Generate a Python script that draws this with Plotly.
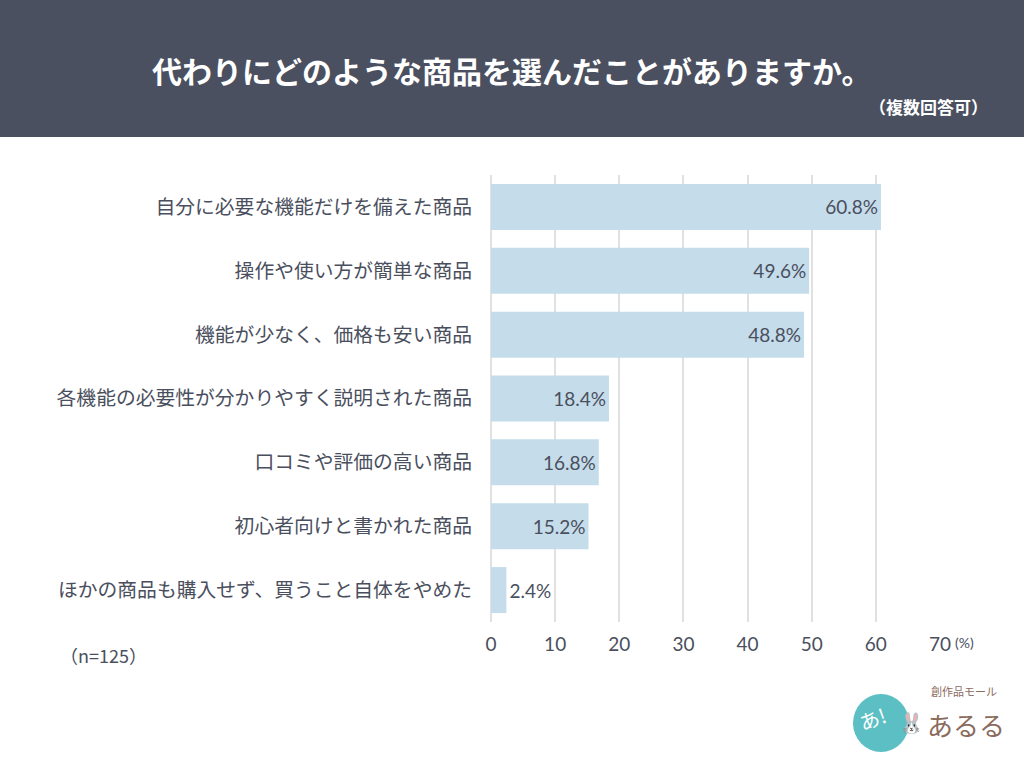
import plotly.graph_objects as go

categories = [
    "自分に必要な機能だけを備えた商品",
    "操作や使い方が簡単な商品",
    "機能が少なく、価格も安い商品",
    "各機能の必要性が分かりやすく説明された商品",
    "口コミや評価の高い商品",
    "初心者向けと書かれた商品",
    "ほかの商品も購入せず、買うこと自体をやめた",
]
values = [60.8, 49.6, 48.8, 18.4, 16.8, 15.2, 2.4]
tick_vals = [0, 10, 20, 30, 40, 50, 60, 70]
title_text = "代わりにどのような商品を選んだことがありますか。"
subtitle_text = "（複数回答可）"
n_text = "（n=125）"

W, H = 1024, 768
L, R, T, B = 491, 84, 175, 146
PW, PH = W - L - R, H - T - B

def px(p):
    return (p - L) / PW

def py(p):
    return (H - B - p) / PH

TXT = "#4a4f5e"
FONT = "Lato, Noto Sans CJK JP, sans-serif"

positions = ["inside" if v > 10 else "outside" for v in values]

fig = go.Figure(
    go.Bar(
        x=values,
        y=categories,
        orientation="h",
        marker=dict(color="#c5dcea", line=dict(width=0)),
        width=0.72,
        text=[f"{v:.1f}%" for v in values],
        textposition=positions,
        insidetextanchor="end",
        textfont=dict(size=19, color=TXT, family=FONT),
        cliponaxis=False,
    )
)

fig.update_layout(
    width=W,
    height=H,
    margin=dict(l=L, r=R, t=T, b=B, pad=0),
    paper_bgcolor="white",
    plot_bgcolor="white",
    showlegend=False,
    font=dict(family=FONT, color=TXT),
    xaxis=dict(
        range=[0, 70],
        tickvals=tick_vals,
        ticktext=[str(t) for t in tick_vals],
        showgrid=True,
        gridcolor="#e1e1e1",
        gridwidth=2,
        zeroline=True,
        zerolinecolor="#e1e1e1",
        zerolinewidth=2,
        showline=False,
        ticks="outside",
        ticklen=5,
        tickcolor="rgba(0,0,0,0)",
        tickfont=dict(size=19, color=TXT, family=FONT),
        fixedrange=True,
    ),
    yaxis=dict(
        categoryorder="array",
        categoryarray=categories,
        showgrid=False,
        zeroline=False,
        showline=False,
        ticks="",
        ticklabelstandoff=18,
        tickfont=dict(size=19.8, color=TXT, family="Noto Sans CJK JP, sans-serif"),
        autorange=False,
        range=[6.5, -0.5],
        fixedrange=True,
    ),
)

shapes = [
    dict(type="rect", xref="paper", yref="paper",
         x0=px(0), x1=px(W), y0=py(137), y1=py(0),
         fillcolor="#4a5060", line=dict(width=0), layer="below"),
    dict(type="circle", xref="paper", yref="paper",
         x0=px(853), x1=px(909), y0=py(752), y1=py(694),
         fillcolor="#5bbfc3", line=dict(width=0)),
]
fig.update_layout(shapes=shapes)

ann = [
    dict(text=f"<b>{title_text}</b>", x=px(511), y=py(70), xref="paper", yref="paper",
         showarrow=False, xanchor="center", yanchor="middle",
         font=dict(size=30, color="white", family="Noto Sans CJK JP")),
    dict(text=f"<b>{subtitle_text}</b>", x=px(990), y=py(107), xref="paper", yref="paper",
         showarrow=False, xanchor="right", yanchor="middle",
         font=dict(size=17, color="white", family="Noto Sans CJK JP")),
    dict(text="(%)", x=px(953), y=py(642), xref="paper", yref="paper",
         showarrow=False, xanchor="left", yanchor="middle",
         font=dict(size=14, color=TXT, family=FONT)),
    dict(text=n_text, x=px(58), y=py(655), xref="paper", yref="paper",
         showarrow=False, xanchor="left", yanchor="middle",
         font=dict(size=18, color=TXT, family="Noto Sans CJK JP")),
    dict(text="創作品モール", x=px(964), y=py(691), xref="paper", yref="paper",
         showarrow=False, xanchor="center", yanchor="middle",
         font=dict(size=11, color="#8b6b5c", family="Noto Sans CJK JP")),
    dict(text="あるる", x=px(925), y=py(724), xref="paper", yref="paper",
         showarrow=False, xanchor="left", yanchor="middle",
         font=dict(size=26, color="#8b6b5c", family="Noto Sans CJK JP")),
    dict(text="あ!", x=px(872), y=py(718), xref="paper", yref="paper",
         showarrow=False, xanchor="center", yanchor="middle", textangle=-20,
         font=dict(size=20, color="white", family="Noto Sans CJK JP")),
    dict(text="🐰", x=px(911), y=py(722), xref="paper", yref="paper",
         showarrow=False, xanchor="center", yanchor="middle",
         font=dict(size=20, color="#8b6b5c")),
]
fig.update_layout(annotations=ann)

fig.write_html("out.html")
